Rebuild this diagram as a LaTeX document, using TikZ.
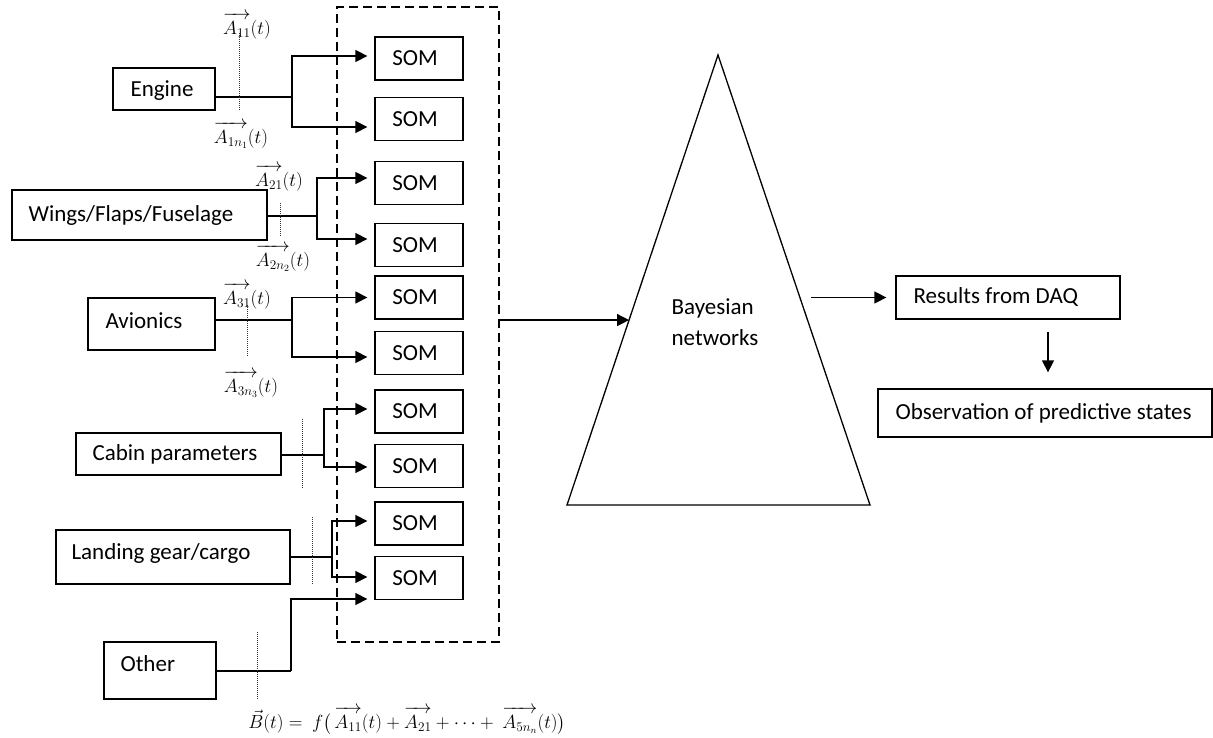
\RequirePackage{fix-cm}
\documentclass[tikz,border=0pt]{standalone}
\usepackage{amsmath}
\usepackage[no-math]{fontspec}
\setmainfont{Carlito}
\usetikzlibrary{arrows.meta,calc}
% feature vector with a slightly raised arrow over it
\newcommand\featvec[1]{\overrightarrow{\rule{0pt}{0.8em}A_{#1}}}

\begin{document}
\begin{tikzpicture}[x=1pt,y=-1pt,
  font=\fontsize{23}{31}\selectfont,
  box/.style={draw, line width=1.3pt, rectangle, inner sep=0pt},
  txt/.style={anchor=west, xshift=#1, inner sep=0pt},
  txt/.default=17pt,
  som/.style={box, minimum width=88pt, minimum height=43pt},
  wire/.style={line width=1.4pt},
  flow/.style={wire, -{Triangle[length=12pt,width=12pt]}},
  tick/.style={line width=0.9pt, dash pattern=on 1pt off 1pt, black!80},
  lab/.style={font=\fontsize{19}{23}\selectfont, inner sep=0pt},
]
\useasboundingbox (0,0) rectangle (1213,738);

% sources
\node[box, minimum width=102pt, minimum height=42pt, label={[txt=18pt,yshift=-2pt]west:Engine}] (engine) at (164,89) {};
\node[box, minimum width=255pt, minimum height=50pt, label={[txt]west:Wings/Flaps/Fuselage}] (wings) at (139.5,215) {};
\node[box, minimum width=127pt, minimum height=52pt, label={[txt=18pt,yshift=3pt]west:Avionics}] (avionics) at (151.5,324) {};
\node[box, minimum width=205pt, minimum height=42pt, label={[txt]west:Cabin parameters}] (cabin) at (178.5,454) {};
\node[box, minimum width=234pt, minimum height=54pt, label={[txt=16pt,yshift=4pt]west:Landing gear/cargo}] (landing) at (173,557) {};
\node[box, minimum width=112pt, minimum height=57pt, label={[txt,yshift=7pt]west:Other}] (other) at (160,670.5) {};

% self-organising maps
\foreach \i/\y in {1/58.5,2/119,3/183,4/245,5/297.5,6/353,7/411.5,8/466,9/523.5,10/578}
  \node[som] (som\i) at (419,\y) {\hspace*{-8pt}SOM};
\node[draw, dash pattern=on 9pt off 5pt, line width=1.3pt, minimum width=162pt,
      minimum height=635pt, inner sep=0pt] (grp) at (418,324.5) {};

% junctions
\coordinate (jE) at (292,97);
\coordinate (jW) at (317,216);
\coordinate (jA) at (292,320);
\coordinate (jC) at (324,455);
\coordinate (jL) at (332,557);
\coordinate (jO) at (291,671);

\draw[wire] (engine.east |- jE) -- (jE);
\draw[flow] (jE) |- ([xshift=-7pt,yshift=2.5pt]som1.west);
\draw[flow] (jE) |- ([xshift=-7pt,yshift=-8pt]som2.west);

\draw[wire] (wings.east |- jW) -- (jW);
\draw[flow] (jW) |- ([xshift=-7pt,yshift=5pt]som3.west);
\draw[flow] (jW) |- ([xshift=-7pt,yshift=6pt]som4.west);

\draw[wire] (avionics.east |- jA) -- (jA);
\draw[flow] (jA) |- ([xshift=-7pt]som5.west);
\draw[flow] (jA) |- ([xshift=-7pt,yshift=-4pt]som6.west);

\draw[wire] (cabin.east |- jC) -- (jC);
\draw[flow] (jC) |- ([xshift=-7pt,yshift=2.5pt]som7.west);
\draw[flow] (jC) |- ([xshift=-7pt,yshift=-1pt]som8.west);

\draw[wire] (landing.east |- jL) -- (jL);
\draw[flow] (jL) |- ([xshift=-7pt,yshift=2.5pt]som9.west);
\draw[flow] (jL) |- ([xshift=-7pt,yshift=1pt]som10.west);

\draw[wire] (other.east |- jO) -- (jO);
\draw[flow] (jO) |- ([xshift=-7pt,yshift=-21pt]som10.west);

% dotted cuts across the feature lines
\draw[tick] (239,33) -- (239,111);
\draw[tick] (280,203) -- (280,237);
\draw[tick] (247,305) -- (247,357);
\draw[tick] (302,419) -- (302,488);
\draw[tick] (312,517) -- (312,584);
\draw[tick] (257,632) -- (257,700);

% feature vectors
\node[lab] (l11) at (247,26)  {$\featvec{11}(t)$};
\node[lab] (l1n) at (241,135) {$\featvec{1n_1}(t)$};
\node[lab] (l21) at (279,178) {$\featvec{21}(t)$};
\node[lab] (l2n) at (283,258) {$\featvec{2n_2}(t)$};
\node[lab] (l31) at (247,296) {$\featvec{31}(t)$};
\node[lab] (l3n) at (251,384) {$\featvec{3n_3}(t)$};
\node[lab] (eq) at (407,721)
  {$\vec{B}(t) =\ f\bigl(\,\featvec{11}(t) + \featvec{21} + \cdots +\ \featvec{5n_n}(t)\bigr)$};

% Bayesian network stage
\coordinate (apex) at (718,55);
\coordinate (bl) at (567,505);
\coordinate (br) at (870,505);
\draw[line width=1.3pt] (apex) -- (bl) -- (br) -- cycle;
\node[align=left, inner sep=0pt] (bn) at (715,322) {Bayesian\\networks};
\coordinate (bnin) at ($(apex)!0.589!(bl)$);
\coordinate (bnout) at ($(apex)!0.54!(br)$);

\node[box, minimum width=224pt, minimum height=43pt, label={[txt=18pt]west:Results from DAQ}] (results) at (1008,297.5) {};
\node[box, minimum width=334pt, minimum height=48pt, label={[txt=18pt]west:Observation of predictive states}] (obs) at (1045,413) {};

\draw[flow] (grp.east |- bnin) -- (bnin);
\draw[flow, shorten <=11pt, shorten >=9pt] (bnout |- results.west) -- (results.west);
\draw[flow, shorten >=16pt] ([xshift=40pt,yshift=-12pt]results.south) -- ([xshift=40pt]results.south |- obs.north);
\end{tikzpicture}
\end{document}
